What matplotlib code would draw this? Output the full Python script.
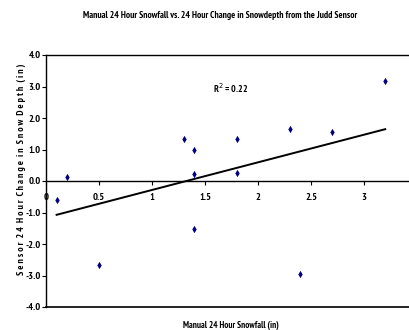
import numpy as np
import matplotlib
matplotlib.use("Agg")
import matplotlib.pyplot as plt

plt.rcParams['font.family'] = ['PT Sans Narrow', 'Liberation Sans', 'DejaVu Sans']

manual_snowfall = [0.1, 0.2, 0.5, 1.3, 1.4, 1.4, 1.4, 1.8, 1.8, 2.3, 2.4, 2.7, 3.2]
sensor_change = [-0.60, 0.13, -2.67, 1.33, 0.98, 0.22, -1.53, 1.33, 0.26, 1.64, -2.95, 1.56, 3.18]
x_ticks = [0, 0.5, 1, 1.5, 2, 2.5, 3]
x_tick_labels = ['0', '0.5', '1', '1.5', '2', '2.5', '3']
y_ticks = [-4, -3, -2, -1, 0, 1, 2, 3, 4]

x = np.array(manual_snowfall)
y = np.array(sensor_change)
slope, intercept = np.polyfit(x, y, 1)
pred = slope * x + intercept
r2 = 1 - np.sum((y - pred) ** 2) / np.sum((y - y.mean()) ** 2)

fig = plt.figure(figsize=(4.09, 3.30), dpi=100)
ax = fig.add_axes([46/409, 1 - 307/330, (417 - 46)/409, (307 - 55)/330])

ax.scatter(x, y, marker='d', s=14, color='#000080', zorder=3, linewidths=0)
xl = np.array([x.min(), x.max()])
ax.plot(xl, slope * xl + intercept, color='black', lw=1.4, zorder=2)

ax.set_xlim(0, 3.5)
ax.set_ylim(-4, 4)
ax.spines['bottom'].set_position(('data', 0))
ax.spines['right'].set_visible(False)
for s in ['left', 'top', 'bottom']:
    ax.spines[s].set_linewidth(1.0)
ax.axhline(-4, color='black', lw=1.2, clip_on=False)

ax.set_xticks(x_ticks)
ax.set_xticklabels(x_tick_labels)
ax.set_yticks(y_ticks)
ax.set_yticklabels([f'{v:.1f}' for v in y_ticks])
ax.tick_params(axis='x', direction='out', length=3, width=0.8, pad=6, labelsize=7.5)
ax.tick_params(axis='y', direction='out', length=3, width=0.8, pad=1, labelsize=7.5)
for lab in ax.get_xticklabels() + ax.get_yticklabels():
    lab.set_fontweight('bold')

ax.text(1.58, 2.95, f'R$^2$ = {r2:.2f}', fontsize=7, fontweight='bold', ha='left', va='center')

fig.text(220/409, 1 - 15/330, 'Manual 24 Hour Snowfall vs. 24 Hour Change in Snowdepth from the Judd Sensor',
         fontsize=6.85, fontweight='bold', ha='center', va='center')
fig.text(231/409, 1 - 325/330, 'Manual 24 Hour Snowfall (in)', fontsize=6.6, fontweight='bold',
         ha='center', va='center')
ylab = '  '.join(' '.join(w) for w in 'Sensor 24 Hour Change in Snow Depth (in)'.split())
fig.text(21/409, 1 - 169/330, ylab, fontsize=7, fontweight='bold', rotation=90,
         ha='center', va='center')

fig.savefig('out.png', dpi=100)
